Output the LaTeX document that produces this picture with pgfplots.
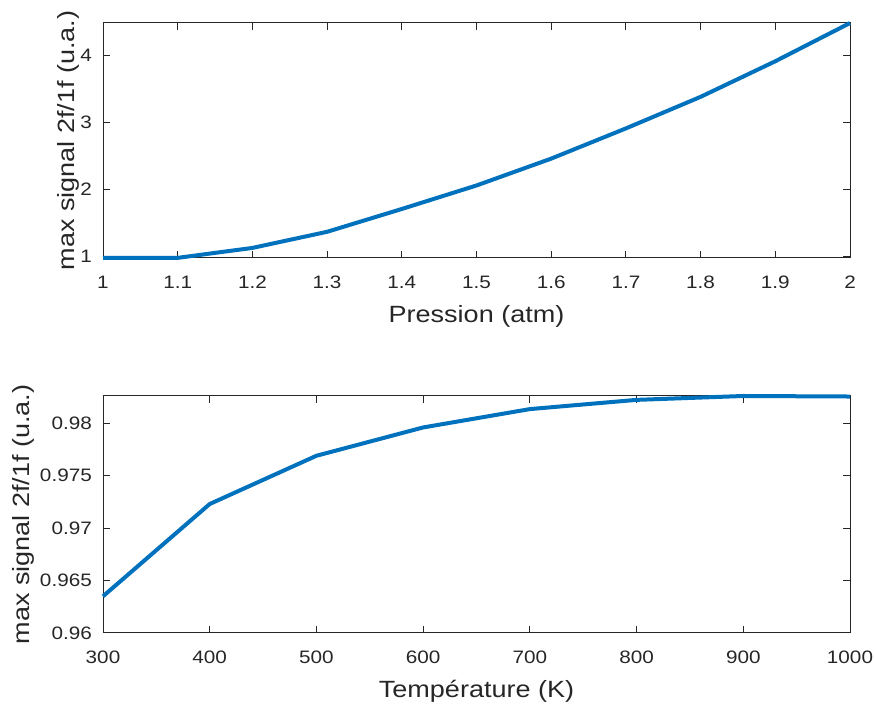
\documentclass[border=0pt]{standalone}
\usepackage{fontspec}
\setmainfont{Liberation Sans}[FakeStretch=1.15]
\usepackage{pgfplots}
\pgfplotsset{compat=1.18}
\definecolor{mblue}{rgb}{0,0.447,0.741}
\definecolor{mgray}{rgb}{0.15,0.15,0.15}
\pgfplotsset{mstyle/.style={
  scale only axis, width=747pt,
  axis line style={mgray, line width=1pt},
  every tick/.style={mgray, line width=1pt},
  major tick length=7pt,
  tick align=inside,
  xtick pos=both, ytick pos=both,
  tick label style={font=\fontsize{18}{21}\selectfont, text=mgray, inner sep=0pt},
  xticklabel shift=18pt,
  yticklabel shift=11pt,
  label style={font=\fontsize{23.5}{27}\selectfont, text=mgray, inner sep=0pt},
  /pgf/number format/assume math mode=true,
  /pgf/number format/1000 sep={},
  scaled ticks=false,
  clip=false,
  xlabel style={at={(axis description cs:0.5,0)}, anchor=north, yshift=-47pt},
}}
\begin{document}
\begin{tikzpicture}[x=1pt,y=1pt]
\useasboundingbox (0,0) rectangle (876,706);
\begin{axis}[mstyle, at={(103pt,448pt)}, anchor=south west, height=235pt,
  xmin=1, xmax=2, ymin=0.98, ymax=4.48,
  xtick={1,1.1,1.2,1.3,1.4,1.5,1.6,1.7,1.8,1.9,2},
  ytick={1,2,3,4},
  xlabel={Pression (atm)},
  ylabel={max signal 2f/1f (u.a.)},
  ylabel style={at={(axis description cs:-0.0308,0.5)}, anchor=south}]
\addplot[mblue, line width=4pt, line join=round, mark=none] coordinates {
(1.0,0.981) (1.1,0.982) (1.2,1.13) (1.3,1.37) (1.4,1.71) (1.5,2.06)
(1.6,2.46) (1.7,2.91) (1.8,3.38) (1.9,3.91) (2.0,4.48)};
\end{axis}
\begin{axis}[mstyle, at={(103pt,73pt)}, anchor=south west, height=237pt,
  xmin=300, xmax=1000, ymin=0.96, ymax=0.9826,
  xtick={300,400,500,600,700,800,900,1000},
  ytick={0.96,0.965,0.97,0.975,0.98},
  yticklabel style={/pgf/number format/fixed, /pgf/number format/precision=3},
  xlabel={Température (K)},
  ylabel={max signal 2f/1f (u.a.)},
  ylabel style={at={(axis description cs:-0.091,0.5)}, anchor=south}]
\addplot[mblue, line width=4pt, line join=round, mark=none] coordinates {
(300,0.9635) (400,0.9723) (500,0.9769) (600,0.9796) (700,0.98135)
(800,0.98223) (900,0.9826) (1000,0.98255)};
\end{axis}
\end{tikzpicture}
\end{document}
